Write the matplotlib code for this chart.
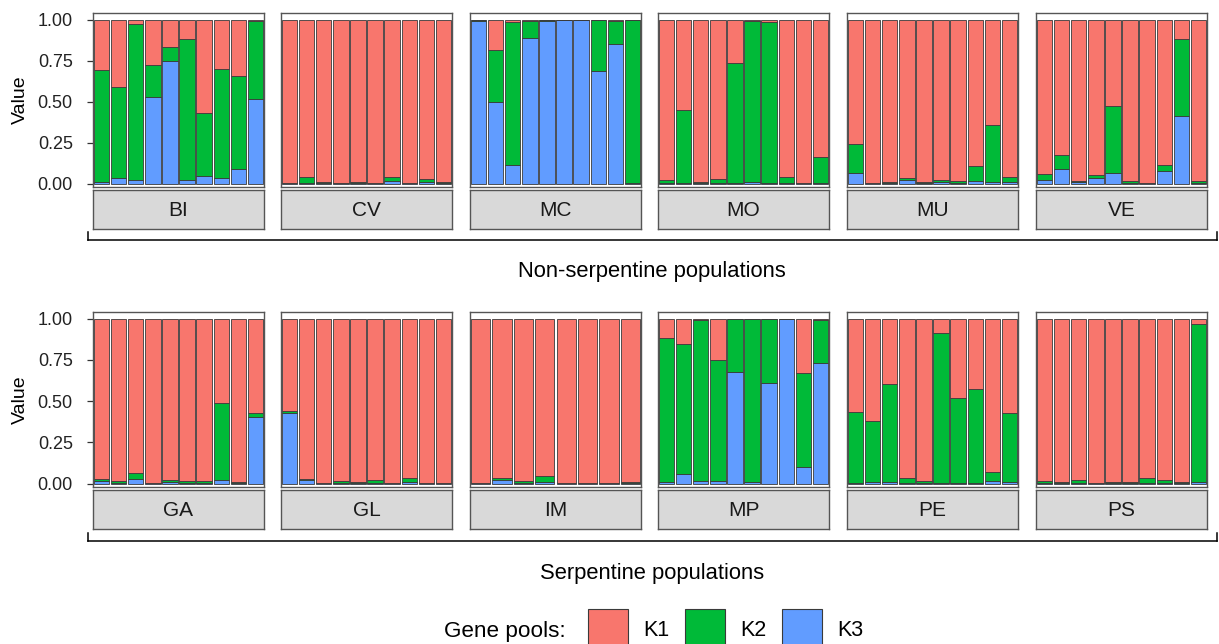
import matplotlib
matplotlib.use("Agg")
import matplotlib.pyplot as plt
from matplotlib.patches import Rectangle
from matplotlib.lines import Line2D

plt.rcParams['font.family'] = ['Liberation Sans', 'DejaVu Sans']

# ---------------- data ----------------
TOP_POPS = ["BI", "CV", "MC", "MO", "MU", "VE"]
BOTTOM_POPS = ["GA", "GL", "IM", "MP", "PE", "PS"]
GENE_POOLS = ["K1", "K2", "K3"]
Y_TICKS = [0.0, 0.25, 0.5, 0.75, 1.0]
Y_TICK_LABELS = ["0.00", "0.25", "0.50", "0.75", "1.00"]
TOP_TITLE = "Non-serpentine populations"
BOTTOM_TITLE = "Serpentine populations"

BI_K1 = [0.31, 0.41, 0.025, 0.275, 0.165, 0.12, 0.57, 0.30, 0.345, 0.01]
BI_K2 = [0.68, 0.555, 0.955, 0.195, 0.09, 0.855, 0.385, 0.665, 0.565, 0.475]
BI_K3 = [0.01, 0.035, 0.02, 0.53, 0.745, 0.025, 0.045, 0.035, 0.09, 0.515]

CV_K1 = [0.993, 0.958, 0.992, 0.995, 0.988, 0.993, 0.962, 0.993, 0.972, 0.991]
CV_K2 = [0.005, 0.035, 0.006, 0.003, 0.010, 0.005, 0.020, 0.005, 0.016, 0.006]
CV_K3 = [0.002, 0.007, 0.002, 0.002, 0.002, 0.002, 0.018, 0.002, 0.012, 0.003]

MC_K1 = [0.004, 0.187, 0.012, 0.007, 0.002, 0.001, 0.000, 0.005, 0.008, 0.004]
MC_K2 = [0.006, 0.317, 0.872, 0.107, 0.008, 0.002, 0.000, 0.306, 0.138, 0.990]
MC_K3 = [0.990, 0.496, 0.116, 0.886, 0.990, 0.997, 1.000, 0.689, 0.854, 0.006]

MO_K1 = [0.975, 0.550, 0.992, 0.971, 0.262, 0.008, 0.014, 0.958, 0.993, 0.840]
MO_K2 = [0.020, 0.445, 0.006, 0.024, 0.736, 0.984, 0.984, 0.037, 0.005, 0.155]
MO_K3 = [0.005, 0.005, 0.002, 0.005, 0.002, 0.008, 0.002, 0.005, 0.002, 0.005]

MU_K1 = [0.760, 0.993, 0.990, 0.964, 0.989, 0.976, 0.982, 0.895, 0.642, 0.957]
MU_K2 = [0.177, 0.005, 0.005, 0.014, 0.008, 0.016, 0.012, 0.087, 0.346, 0.035]
MU_K3 = [0.063, 0.002, 0.005, 0.022, 0.003, 0.008, 0.006, 0.018, 0.012, 0.008]

VE_K1 = [0.939, 0.824, 0.982, 0.945, 0.524, 0.984, 0.993, 0.885, 0.116, 0.984]
VE_K2 = [0.037, 0.085, 0.010, 0.020, 0.409, 0.010, 0.005, 0.040, 0.469, 0.010]
VE_K3 = [0.024, 0.091, 0.008, 0.035, 0.067, 0.006, 0.002, 0.075, 0.415, 0.006]

GA_K1 = [0.972, 0.986, 0.937, 0.994, 0.980, 0.984, 0.984, 0.513, 0.992, 0.569]
GA_K2 = [0.014, 0.010, 0.035, 0.004, 0.012, 0.010, 0.012, 0.463, 0.006, 0.026]
GA_K3 = [0.014, 0.004, 0.028, 0.002, 0.008, 0.006, 0.004, 0.024, 0.002, 0.405]

GL_K1 = [0.559, 0.970, 0.994, 0.986, 0.990, 0.980, 0.994, 0.966, 0.994, 0.994]
GL_K2 = [0.010, 0.010, 0.004, 0.012, 0.008, 0.014, 0.004, 0.026, 0.004, 0.004]
GL_K3 = [0.431, 0.020, 0.002, 0.002, 0.002, 0.006, 0.002, 0.008, 0.002, 0.002]

IM_K1 = [0.994, 0.964, 0.982, 0.955, 0.994, 0.994, 0.994, 0.988]
IM_K2 = [0.004, 0.016, 0.014, 0.035, 0.004, 0.004, 0.004, 0.010]
IM_K3 = [0.002, 0.020, 0.004, 0.010, 0.002, 0.002, 0.002, 0.002]

MP_K1 = [0.116, 0.152, 0.010, 0.250, 0.000, 0.000, 0.000, 0.000, 0.329, 0.008]
MP_K2 = [0.874, 0.791, 0.972, 0.736, 0.321, 0.992, 0.388, 0.002, 0.571, 0.258]
MP_K3 = [0.010, 0.057, 0.018, 0.014, 0.679, 0.008, 0.612, 0.998, 0.100, 0.734]

PE_K1 = [0.567, 0.620, 0.398, 0.963, 0.984, 0.089, 0.480, 0.429, 0.929, 0.571]
PE_K2 = [0.427, 0.372, 0.594, 0.033, 0.010, 0.909, 0.516, 0.569, 0.057, 0.421]
PE_K3 = [0.006, 0.008, 0.008, 0.004, 0.006, 0.002, 0.004, 0.002, 0.014, 0.008]

PS_K1 = [0.986, 0.992, 0.980, 0.994, 0.992, 0.990, 0.963, 0.980, 0.988, 0.035]
PS_K2 = [0.010, 0.006, 0.016, 0.004, 0.006, 0.008, 0.035, 0.018, 0.010, 0.953]
PS_K3 = [0.004, 0.002, 0.004, 0.002, 0.002, 0.002, 0.002, 0.002, 0.002, 0.012]

DATA = {
    "BI": (BI_K1, BI_K2, BI_K3), "CV": (CV_K1, CV_K2, CV_K3),
    "MC": (MC_K1, MC_K2, MC_K3), "MO": (MO_K1, MO_K2, MO_K3),
    "MU": (MU_K1, MU_K2, MU_K3), "VE": (VE_K1, VE_K2, VE_K3),
    "GA": (GA_K1, GA_K2, GA_K3), "GL": (GL_K1, GL_K2, GL_K3),
    "IM": (IM_K1, IM_K2, IM_K3), "MP": (MP_K1, MP_K2, MP_K3),
    "PE": (PE_K1, PE_K2, PE_K3), "PS": (PS_K1, PS_K2, PS_K3),
}

# ---------------- style ----------------
COLORS = {"K1": "#F8766D", "K2": "#00BA38", "K3": "#619CFF"}
EDGE = "#3a3a3a"
FRAME = "#555555"
STRIP_FILL = "#D9D9D9"

W, H = 1219, 644
fig = plt.figure(figsize=(W / 100, H / 100), dpi=100)


def fx(x):
    return x / W


def fy(y):
    return 1 - y / H


PANEL_X = [93, 281, 470, 658, 847, 1036]
PANEL_W = 171
ROWS = [
    dict(pops=TOP_POPS, top=13, bottom=187, strip_top=190, strip_bot=229,
         brk=240, title=TOP_TITLE, title_y=272),
    dict(pops=BOTTOM_POPS, top=312, bottom=487, strip_top=490, strip_bot=529,
         brk=541, title=BOTTOM_TITLE, title_y=573),
]

for row in ROWS:
    for i, pop in enumerate(row["pops"]):
        x0 = PANEL_X[i]
        ax = fig.add_axes([fx(x0), fy(row["bottom"]), PANEL_W / W,
                           (row["bottom"] - row["top"]) / H])
        k1, k2, k3 = DATA[pop]
        n = len(k1)
        xs = list(range(1, n + 1))
        bottom = [0.0] * n
        for name, vals in zip(["K3", "K2", "K1"], [k3, k2, k1]):
            ax.bar(xs, vals, width=0.9, bottom=bottom, color=COLORS[name],
                   edgecolor=EDGE, linewidth=0.6)
            bottom = [b + v for b, v in zip(bottom, vals)]
        ax.set_xlim(0.5, n + 0.5)
        ax.set_ylim(-0.02, 1.04)
        ax.set_xticks([])
        for s in ax.spines.values():
            s.set_color(FRAME)
            s.set_linewidth(1.0)
        if i == 0:
            ax.set_yticks(Y_TICKS)
            ax.set_yticklabels(Y_TICK_LABELS, fontsize=13, color="#222222")
            ax.tick_params(axis="y", length=4, width=0.9, color="#333333", pad=10.5)
            ax.set_ylabel("Value", fontsize=14)
            ax.yaxis.set_label_coords((29 - x0) / PANEL_W, 0.5)
        else:
            ax.set_yticks([])
        # strip
        sax = fig.add_axes([fx(x0), fy(row["strip_bot"]), PANEL_W / W,
                            (row["strip_bot"] - row["strip_top"]) / H])
        sax.set_facecolor(STRIP_FILL)
        sax.set_xticks([])
        sax.set_yticks([])
        for s in sax.spines.values():
            s.set_color(FRAME)
            s.set_linewidth(1.0)
        sax.text(0.5, 0.47, pop, ha="center", va="center", fontsize=15,
                 color="#1a1a1a", transform=sax.transAxes)

    # bracket
    yb = row["brk"]
    fig.add_artist(Line2D([fx(88), fx(1217)], [fy(yb), fy(yb)],
                          color="black", lw=1.1))
    fig.add_artist(Line2D([fx(88), fx(88)], [fy(yb), fy(yb - 8)],
                          color="black", lw=1.1))
    fig.add_artist(Line2D([fx(1217), fx(1217)], [fy(yb), fy(yb - 8)],
                          color="black", lw=1.1))
    fig.text(fx(652), fy(row["title_y"]), row["title"], ha="center",
             va="center", fontsize=15.8)

# legend
fig.text(fx(505), fy(631), "Gene pools:", ha="center", va="center",
         fontsize=16.2)
LEG_X = [588, 685, 782]
for gx, name in zip(LEG_X, GENE_POOLS):
    fig.add_artist(Rectangle((fx(gx), fy(650)), 40 / W, 41 / H,
                             facecolor=COLORS[name], edgecolor=EDGE,
                             linewidth=0.8, transform=fig.transFigure))
    fig.text(fx(gx + 55), fy(631), name, ha="left", va="center",
             fontsize=15.5)

fig.savefig("out.png", dpi=100)
